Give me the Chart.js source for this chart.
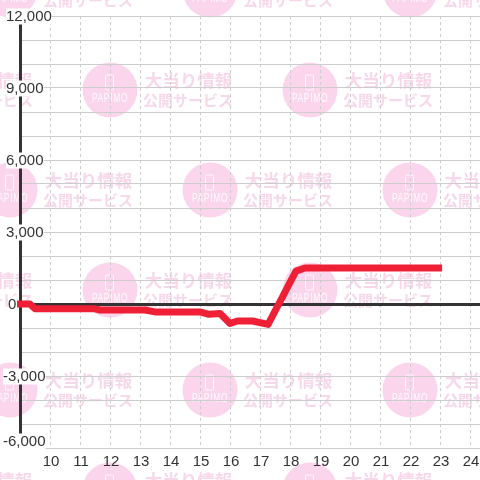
<!DOCTYPE html>
<html>
<head>
<meta charset="utf-8">
<script src="https://cdn.jsdelivr.net/npm/chart.js@4"></script>
<style>
html,body{margin:0;padding:0;background:#fff}
canvas{display:block}
</style>
</head>
<body>
<canvas id="chart" width="480" height="480"></canvas>
<script>
const hours = [8.9, 9.33, 9.5, 11.5, 11.67, 13.17, 13.5, 15, 15.3, 15.67, 16, 16.25, 16.75, 17.27, 17.5, 17.75, 18, 18.2, 18.5, 23.07];
const diffs = [0, 0, -200, -200, -250, -250, -330, -330, -430, -400, -810, -710, -710, -850, -300, 300, 900, 1370, 1500, 1500];
const yLabels = [12000, 9000, 6000, 3000, 0, -3000, -6000];

const grey = '#cdcdcd';
const dark = '#333';
const sans = '"Liberation Sans", Arial, sans-serif';

// papimo watermark behind everything
const watermark = {
  id: 'watermark',
  beforeDraw(chart) {
    const c = chart.ctx;
    c.save();
    c.fillStyle = '#fff';
    c.fillRect(0, 0, 480, 480);
    for (let r = 0; r < 6; r++) {
      const cy = -10 + r * 100;
      for (let cx = r % 2 ? -90 : 10; cx < 520; cx += 200) {
        c.fillStyle = '#fbd5ec';
        c.beginPath();
        c.arc(cx, cy, 27.5, 0, Math.PI * 2);
        c.fill();
        c.strokeStyle = 'rgba(255,255,255,0.8)';
        c.lineWidth = 1;
        c.beginPath();
        c.roundRect(cx - 4.5, cy - 15, 8, 15, 1.5);
        c.stroke();
        c.textAlign = 'center';
        c.textBaseline = 'middle';
        // logo letters are tall and narrow
        c.save();
        c.translate(cx, cy + 9);
        c.scale(0.7, 1);
        c.fillStyle = 'rgba(255,255,255,0.9)';
        c.font = '12px ' + sans;
        c.letterSpacing = '1px';
        c.fillText('PAPIMO', 0, 0);
        c.restore();
        c.fillStyle = '#f7d8ea';
        c.font = 'bold 17.5px "Noto Sans CJK JP"';
        c.fillText('大当り情報', cx + 78.5, cy - 10);
        c.font = 'bold 15px "Noto Sans CJK JP"';
        c.fillText('公開サービス', cx + 78, cy + 10);
      }
    }
    c.restore();
  }
};

// y labels sit on top of the axis with a white box, not lined up on one edge
const yTickLabels = {
  id: 'yTickLabels',
  afterDraw(chart) {
    const c = chart.ctx, y = chart.scales.y;
    c.save();
    c.font = '15px ' + sans;
    c.textBaseline = 'middle';
    c.textAlign = 'left';
    yLabels.forEach(v => {
      const text = v.toLocaleString('en-US');
      const left = v < 0 ? 3 : v === 0 ? 8 : 6;
      const py = y.getPixelForValue(v) + (v === -6000 ? -6.5 : 0.5);
      const w = c.measureText(text).width;
      c.fillStyle = '#fff';
      c.fillRect(left, py - 8, w, 16);
      c.fillStyle = dark;
      c.fillText(text, left, py);
    });
    c.restore();
  }
};

new Chart(document.getElementById('chart'), {
  type: 'line',
  data: {
    datasets: [{
      data: hours.map((h, i) => ({x: h, y: diffs[i]})),
      borderColor: '#ef2036',
      borderWidth: 7,
      borderCapStyle: 'butt',
      borderJoinStyle: 'round',
      pointRadius: 0,
      tension: 0,
      clip: false
    }]
  },
  options: {
    responsive: false,
    animation: false,
    layout: {padding: {top: 16}},
    plugins: {legend: {display: false}, tooltip: {enabled: false}},
    scales: {
      x: {
        type: 'linear',
        min: 9,
        max: 24.333,
        afterFit: s => { s.height = 32; s.paddingRight = 0; s.paddingLeft = 0; },
        grid: {color: grey, drawTicks: false},
        border: {color: grey, width: 1, dash: [3, 3]},
        ticks: {
          stepSize: 1,
          includeBounds: false,
          autoSkip: false,
          maxRotation: 0,
          padding: 5,
          labelOffset: 1,
          color: dark,
          font: {family: sans, size: 15},
          callback: v => v === 9 ? '' : v
        }
      },
      y: {
        min: -6000,
        max: 12000,
        afterFit: s => { s.width = 20; },
        grid: {
          color: c => c.tick.value === 0 ? dark : grey,
          lineWidth: c => c.tick.value === 0 ? 3 : 1,
          drawTicks: false
        },
        border: {color: dark, width: 3},
        ticks: {stepSize: 1000, display: false}
      }
    }
  },
  plugins: [watermark, yTickLabels]
});
</script>
</body>
</html>
